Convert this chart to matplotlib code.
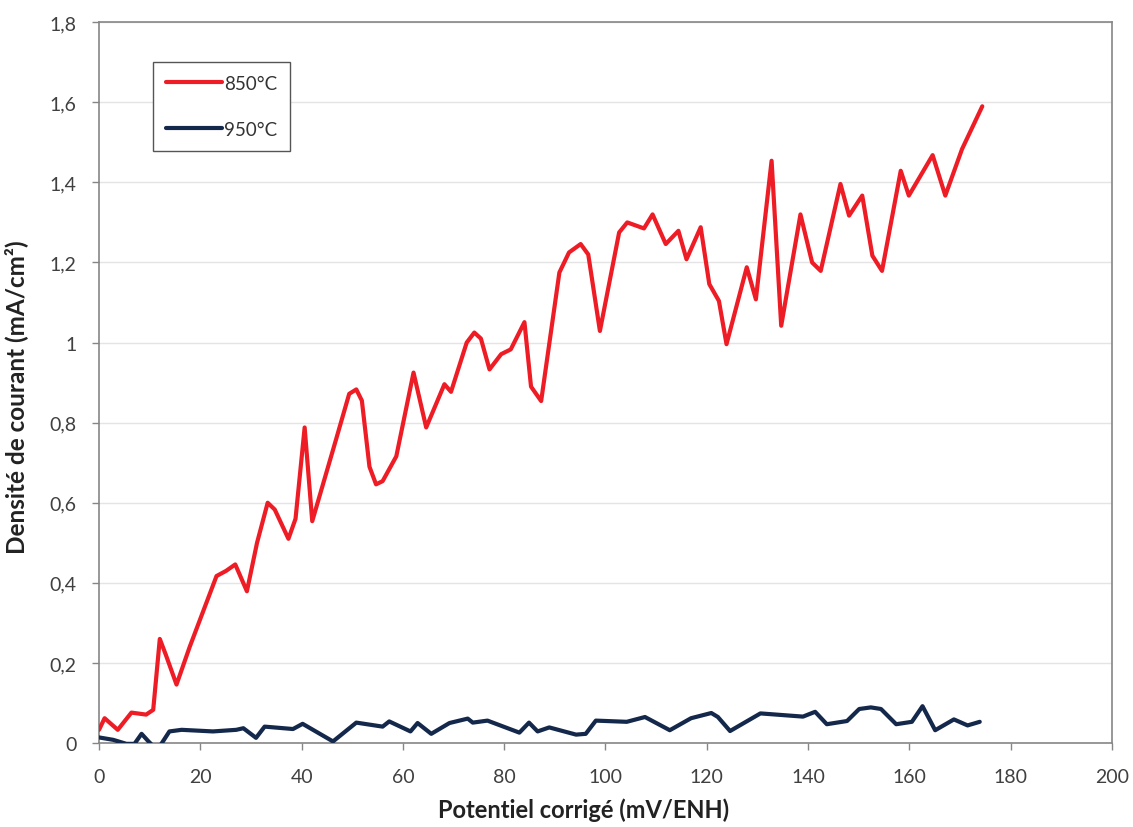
import matplotlib
matplotlib.use("Agg")
import matplotlib.pyplot as plt
from matplotlib.ticker import FuncFormatter, MultipleLocator

plt.rcParams['font.family'] = ['Lato', 'DejaVu Sans']

# 850°C series
x_850 = [0, 1.1, 3.7, 6.4, 9.3, 10.7, 12.0, 13.2, 15.3, 17.9, 23.2, 25.1, 26.9, 29.2,
         31.2, 33.3, 34.7, 37.4, 38.8, 40.6, 42.1, 46.8, 49.4, 50.8, 51.9, 53.4,
         54.7, 56.0, 58.7, 62.1, 64.6, 68.2,
         69.5, 72.6, 74.1, 75.4, 77.1, 79.4, 81.3, 84.0, 85.3, 87.3, 90.9, 92.8, 95.1,
         96.6, 98.9, 102.7, 104.3, 107.6, 109.3, 111.9, 114.4, 116.0, 118.8, 120.5,
         122.4, 123.9, 127.9, 129.7, 132.8, 134.7, 138.5, 140.8, 142.5, 146.4, 148.1,
         150.7, 152.7, 154.6, 158.3, 159.9, 164.6, 167.1, 170.4, 174.4]
y_850 = [0.033, 0.062, 0.033, 0.076, 0.071, 0.083, 0.26, 0.22, 0.146, 0.24, 0.417,
         0.43, 0.446, 0.379, 0.50, 0.60, 0.583, 0.51, 0.56, 0.788, 0.554, 0.758, 0.872,
         0.883, 0.855, 0.69, 0.646, 0.654, 0.716, 0.925, 0.788, 0.896, 0.877, 1.0,
         1.025, 1.01, 0.933, 0.971, 0.983, 1.051, 0.89, 0.854, 1.175, 1.225, 1.246,
         1.22, 1.029, 1.275, 1.30, 1.285, 1.32, 1.246, 1.279, 1.208, 1.288, 1.146,
         1.104, 0.996, 1.188, 1.108, 1.454, 1.042, 1.32, 1.2, 1.179, 1.396, 1.317,
         1.367, 1.217, 1.179, 1.429, 1.367, 1.468, 1.367, 1.483, 1.59]

# 950°C series
x_950 = [0, 2.8, 5.4, 7.0, 8.4, 9.7, 10.7, 12.0, 13.9, 16.3, 22.5, 27.1, 28.5,
         31.0, 32.7, 38.3, 40.2, 46.2, 50.8, 56.0, 57.3, 61.5, 62.9, 65.6, 69.2,
         72.8, 73.8, 76.7, 83.0, 84.9, 86.6, 88.9, 94.2, 96.1, 98.1, 104.2, 107.8,
         112.7, 116.9, 120.9, 122.2, 124.6, 130.6, 139.0, 141.4, 143.7, 147.7,
         150.1, 152.4, 154.4, 157.4, 160.5, 162.6, 165.1, 168.8, 171.5, 173.9]
y_950 = [0.014, 0.008, -0.002, -0.002, 0.023, 0.005, -0.008, -0.008, 0.029, 0.033,
         0.029, 0.033, 0.037, 0.013, 0.041, 0.035, 0.048, 0.004, 0.051, 0.041,
         0.054, 0.029, 0.05, 0.023, 0.05, 0.061, 0.051, 0.056, 0.026, 0.051, 0.029,
         0.039, 0.021, 0.023, 0.056, 0.053, 0.065, 0.032, 0.062, 0.075, 0.065,
         0.03, 0.074, 0.066, 0.078, 0.047, 0.055, 0.085, 0.089, 0.085, 0.047,
         0.053, 0.092, 0.032, 0.059, 0.044, 0.053]

labels = ['850°C', '950°C']
x_label = 'Potentiel corrigé (mV/ENH)'
y_label = 'Densité de courant (mA/cm²)'

fig = plt.figure(figsize=(11.33, 8.28), dpi=100)
ax = fig.add_axes([0.0874, 0.1014, 0.894, 0.8706])

ax.plot(x_850, y_850, color='#ee1c25', lw=3.0, solid_joinstyle='round',
        solid_capstyle='round', label=labels[0], zorder=3)
ax.plot(x_950, y_950, color='#14284b', lw=3.0, solid_joinstyle='round',
        solid_capstyle='round', label=labels[1], zorder=3)

ax.set_xlim(0, 200)
ax.set_ylim(0, 1.8)
ax.xaxis.set_major_locator(MultipleLocator(20))
ax.yaxis.set_major_locator(MultipleLocator(0.2))

def yfmt(v, pos):
    s = ('%.1f' % v).rstrip('0').rstrip('.')
    return s.replace('.', ',')

ax.yaxis.set_major_formatter(FuncFormatter(yfmt))
ax.grid(axis='y', color='#e4e4e4', lw=1.0, zorder=0)
ax.set_axisbelow(True)

for sp in ax.spines.values():
    sp.set_color('#868686')
    sp.set_linewidth(1.2)

ax.tick_params(axis='both', direction='out', length=5, width=1.0,
               color='#868686', labelsize=14, labelcolor='#404040')
ax.tick_params(axis='x', pad=13)
ax.tick_params(axis='y', pad=11)

ax.set_xlabel(x_label, fontsize=17, fontweight='bold', color='#222222')
ax.set_ylabel(y_label, fontsize=17.5, fontweight='bold', color='#222222')
ax.xaxis.set_label_coords(0.478, -0.075)
ax.yaxis.set_label_coords(-0.070, 0.481)

leg = ax.legend(loc='upper left', bbox_to_anchor=(0.053, 0.945), fontsize=13.5,
                handlelength=3.0, handletextpad=0.1, labelspacing=1.55,
                fancybox=False, framealpha=1, borderpad=0.7, borderaxespad=0)
leg.get_frame().set_edgecolor('#555555')
leg.get_frame().set_linewidth(1.0)
for t in leg.get_texts():
    t.set_color('#333333')

fig.savefig('out.png', dpi=100)
